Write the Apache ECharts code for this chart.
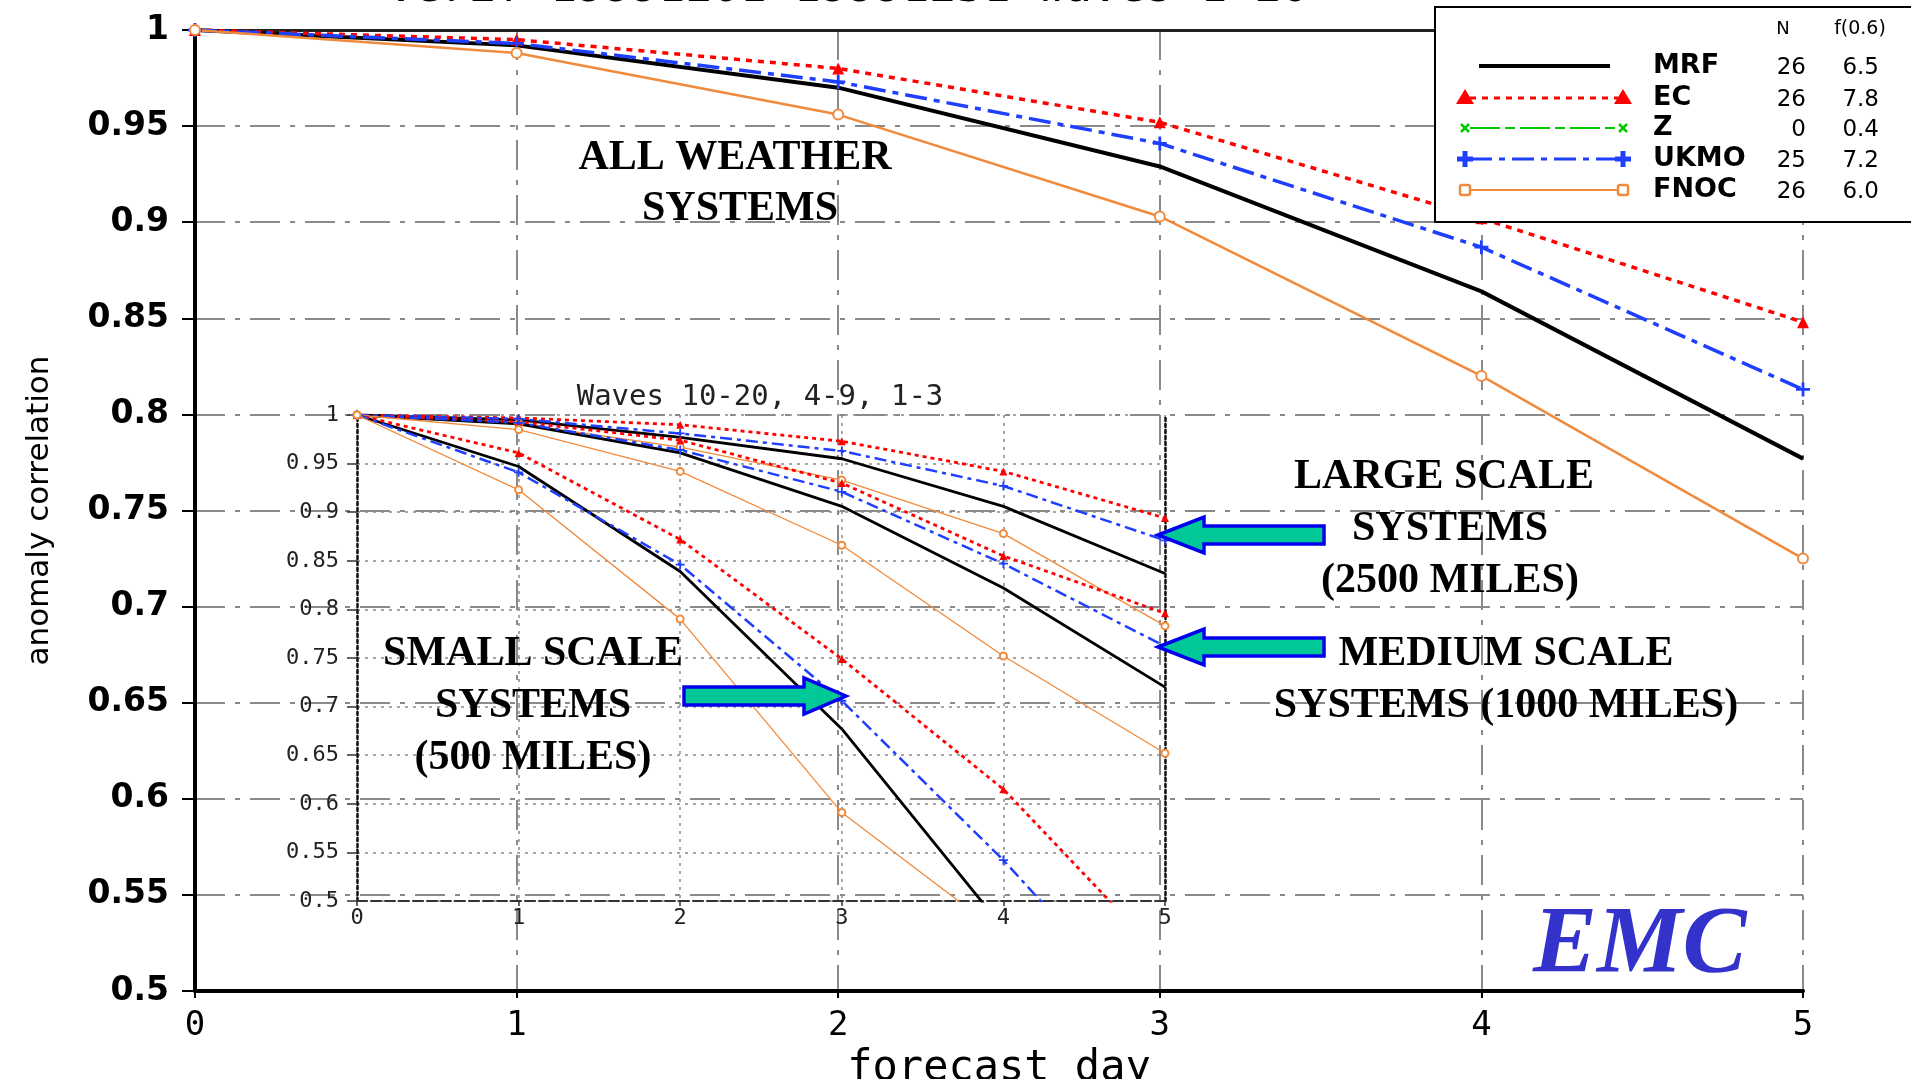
<!DOCTYPE html>
<html>
<head>
<meta charset="utf-8">
<script src="https://cdn.jsdelivr.net/npm/echarts@6/dist/echarts.min.js"></script>
<style>
html,body{margin:0;padding:0;background:#fff;}
#c{width:1911px;height:1079px;}
</style>
</head>
<body>
<div id="c"></div>
<script>
// ---------- data ----------
const days = [0, 1, 2, 3, 4, 5];
const yTicks = ['0.5','0.55','0.6','0.65','0.7','0.75','0.8','0.85','0.9','0.95','1'];

// main chart: all weather systems, waves 1-20
const mrfAll  = [1.000, 0.992, 0.970, 0.929, 0.864, 0.777];
const ecAll   = [1.000, 0.995, 0.980, 0.952, 0.902, 0.848];
const ukmoAll = [1.000, 0.993, 0.973, 0.941, 0.887, 0.813];
const fnocAll = [1.000, 0.988, 0.956, 0.903, 0.820, 0.725];

// inset: waves 1-3 (large scale)
const mrfLarge  = [1.000, 0.995, 0.977, 0.955, 0.906, 0.837];
const ecLarge   = [1.000, 0.997, 0.990, 0.973, 0.942, 0.894];
const ukmoLarge = [1.000, 0.996, 0.981, 0.963, 0.927, 0.871];
const fnocLarge = [1.000, 0.991, 0.967, 0.933, 0.878, 0.783];
// inset: waves 4-9 (medium scale)
const mrfMedium  = [1.000, 0.991, 0.961, 0.906, 0.822, 0.720];
const ecMedium   = [1.000, 0.993, 0.974, 0.930, 0.855, 0.796];
const ukmoMedium = [1.000, 0.992, 0.964, 0.921, 0.847, 0.762];
const fnocMedium = [1.000, 0.985, 0.942, 0.866, 0.752, 0.652];
// inset: waves 10-20 (small scale)
const mrfSmall  = [1.000, 0.947, 0.839, 0.677, 0.472, null];
const ecSmall   = [1.000, 0.961, 0.872, 0.749, 0.615, 0.440];
const ukmoSmall = [1.000, 0.941, 0.846, 0.706, 0.542, 0.360];
const fnocSmall = [1.000, 0.923, 0.790, 0.591, 0.465, null];

// legend table
const legendNames = ['MRF', 'EC', 'Z', 'UKMO', 'FNOC'];
const legendN     = ['26', '26', '0', '25', '26'];
const legendF     = ['6.5', '7.8', '0.4', '7.2', '6.0'];

// ---------- styles ----------
const C = {MRF:'#000000', EC:'#ff0000', Z:'#00cc00', UKMO:'#1f3fff', FNOC:'#f08a3c'};
const PLUS = 'path://M4,0H6V4H10V6H6V10H4V6H0V4H4Z';
const mainStyle = {
  MRF:  {type:'solid', width:4, symbol:'none', size:0},
  EC:   {type:[6,6], width:3.5, symbol:'triangle', size:12},
  UKMO: {type:[22,7,6,7], width:3.5, symbol:PLUS, size:14},
  FNOC: {type:'solid', width:2.5, symbol:'emptyCircle', size:10}
};
const insetStyle = {
  MRF:  {type:'solid', width:2.8, symbol:'none', size:0},
  EC:   {type:[4,4], width:2.8, symbol:'triangle', size:8},
  UKMO: {type:[12,5,4,5], width:2.5, symbol:PLUS, size:9},
  FNOC: {type:'solid', width:1.3, symbol:'emptyCircle', size:7}
};

function mk(name, model, arr, st, xi, yi) {
  return {
    name: name, type: 'line', xAxisIndex: xi, yAxisIndex: yi,
    data: days.map((d, i) => [d, arr[i]]),
    symbol: st.symbol, symbolSize: st.size, showSymbol: st.symbol !== 'none',
    lineStyle: {color: C[model], width: st.width, type: st.type},
    itemStyle: {color: C[model], borderColor: C[model], borderWidth: model === 'FNOC' ? 2 : 0},
    clip: true, silent: true, z: 3
  };
}

const series = [
  mk('MRF', 'MRF', mrfAll, mainStyle.MRF, 0, 0),
  mk('EC', 'EC', ecAll, mainStyle.EC, 0, 0),
  mk('UKMO', 'UKMO', ukmoAll, mainStyle.UKMO, 0, 0),
  mk('FNOC', 'FNOC', fnocAll, mainStyle.FNOC, 0, 0),
  mk('MRF 1-3', 'MRF', mrfLarge, insetStyle.MRF, 2, 1),
  mk('EC 1-3', 'EC', ecLarge, insetStyle.EC, 2, 1),
  mk('UKMO 1-3', 'UKMO', ukmoLarge, insetStyle.UKMO, 2, 1),
  mk('FNOC 1-3', 'FNOC', fnocLarge, insetStyle.FNOC, 2, 1),
  mk('MRF 4-9', 'MRF', mrfMedium, insetStyle.MRF, 2, 1),
  mk('EC 4-9', 'EC', ecMedium, insetStyle.EC, 2, 1),
  mk('UKMO 4-9', 'UKMO', ukmoMedium, insetStyle.UKMO, 2, 1),
  mk('FNOC 4-9', 'FNOC', fnocMedium, insetStyle.FNOC, 2, 1),
  mk('MRF 10-20', 'MRF', mrfSmall, insetStyle.MRF, 2, 1),
  mk('EC 10-20', 'EC', ecSmall, insetStyle.EC, 2, 1),
  mk('UKMO 10-20', 'UKMO', ukmoSmall, insetStyle.UKMO, 2, 1),
  mk('FNOC 10-20', 'FNOC', fnocSmall, insetStyle.FNOC, 2, 1)
];

const fmtY = v => {
  const s = yTicks.find(t => Math.abs(parseFloat(t) - v) < 1e-6);
  return s !== undefined ? s : '';
};

// ---------- graphics (legend, annotations) ----------
const graphic = [];
// title (cut off at top)
graphic.push({type:'text', x:848, y:12, z:10,
  style:{text:'verif 19991201-19991231 waves 1-20', font:'45px "DejaVu Sans Mono"', fill:'#000',
         textAlign:'center', textVerticalAlign:'bottom'}});
// legend box
graphic.push({type:'rect', shape:{x:1435, y:7, width:500, height:215},
  style:{fill:'#fff', stroke:'#000', lineWidth:2}, z:20});
graphic.push({type:'text', x:1783, y:29, z:21, style:{text:'N', font:'18px "DejaVu Sans"', fill:'#000', textAlign:'center', textVerticalAlign:'middle'}});
graphic.push({type:'text', x:1860, y:29, z:21, style:{text:'f(0.6)', font:'19px "DejaVu Sans"', fill:'#000', textAlign:'center', textVerticalAlign:'middle'}});
const rowY = [66, 98, 128, 159, 190];
const lgLine = {
  MRF:  {dash:null, w:4},
  EC:   {dash:[6,6], w:3},
  Z:    {dash:[30,5,10,5], w:2},
  UKMO: {dash:[22,7,6,7], w:3},
  FNOC: {dash:null, w:2}
};
legendNames.forEach((nm, i) => {
  const y = rowY[i];
  const st = lgLine[nm];
  const x1 = nm === 'MRF' ? 1479 : 1470, x2 = nm === 'MRF' ? 1610 : 1618;
  graphic.push({type:'line', z:21, shape:{x1:x1, y1:y, x2:x2, y2:y},
    style:{stroke:C[nm], lineWidth:st.w, lineDash:st.dash}});
  [1465, 1623].forEach(mx => {
    if (nm === 'EC') {
      graphic.push({type:'polygon', z:22, shape:{points:[[mx, y-9],[mx-9, y+6],[mx+9, y+6]]}, style:{fill:C.EC}});
    } else if (nm === 'Z') {
      graphic.push({type:'line', z:22, shape:{x1:mx-4, y1:y-4, x2:mx+4, y2:y+4}, style:{stroke:C.Z, lineWidth:2.5}});
      graphic.push({type:'line', z:22, shape:{x1:mx-4, y1:y+4, x2:mx+4, y2:y-4}, style:{stroke:C.Z, lineWidth:2.5}});
    } else if (nm === 'UKMO') {
      graphic.push({type:'rect', z:22, shape:{x:mx-8, y:y-2.5, width:16, height:5}, style:{fill:C.UKMO}});
      graphic.push({type:'rect', z:22, shape:{x:mx-2.5, y:y-8, width:5, height:16}, style:{fill:C.UKMO}});
    } else if (nm === 'FNOC') {
      graphic.push({type:'rect', z:22, shape:{x:mx-5, y:y-5, width:10, height:10, r:2}, style:{fill:'#fff', stroke:C.FNOC, lineWidth:2.5}});
    }
  });
  graphic.push({type:'text', x:1653, y:y, z:21, style:{text:nm, font:'900 27px "DejaVu Sans"', fill:'#000', textVerticalAlign:'middle'}});
  graphic.push({type:'text', x:1806, y:y+2, z:21, style:{text:legendN[i], font:'23px "DejaVu Sans"', fill:'#000', textAlign:'right', textVerticalAlign:'middle'}});
  graphic.push({type:'text', x:1879, y:y+2, z:21, style:{text:legendF[i], font:'23px "DejaVu Sans"', fill:'#000', textAlign:'right', textVerticalAlign:'middle'}});
});
// inset title
graphic.push({type:'text', x:760, y:397, z:10, style:{text:'Waves 10-20, 4-9, 1-3', font:'29px "DejaVu Sans Mono"', fill:'#222', textAlign:'center', textVerticalAlign:'middle'}});
// annotation texts
const serif = 'bold 42px "Liberation Serif"';
function lbl(t, x, y) {
  graphic.push({type:'text', x:x, y:y, z:10, style:{text:t, font:serif, fill:'#000', textAlign:'center', textVerticalAlign:'middle'}});
}
lbl('ALL WEATHER', 735, 158); lbl('SYSTEMS', 740, 209);
lbl('LARGE SCALE', 1444, 477); lbl('SYSTEMS', 1450, 529); lbl('(2500 MILES)', 1450, 581);
lbl('MEDIUM SCALE', 1506, 654); lbl('SYSTEMS (1000 MILES)', 1506, 706);
lbl('SMALL SCALE', 533, 654); lbl('SYSTEMS', 533, 706); lbl('(500 MILES)', 533, 758);
graphic.push({type:'text', x:1533, y:995, z:10, style:{text:'EMC', font:'italic bold 96px "Liberation Serif"', fill:'#3333cc', textVerticalAlign:'bottom'}});
// arrows
function arrowL(tx, ty) {
  graphic.push({type:'polygon', z:12, shape:{points:[[tx,ty],[tx+46,ty-18],[tx+46,ty-9],[tx+166,ty-9],[tx+166,ty+9],[tx+46,ty+9],[tx+46,ty+18]]},
    style:{fill:'#00c896', stroke:'#0000ee', lineWidth:3.5}});
}
function arrowR(tx, ty) {
  graphic.push({type:'polygon', z:12, shape:{points:[[tx,ty],[tx-42,ty-18],[tx-42,ty-9],[tx-162,ty-9],[tx-162,ty+9],[tx-42,ty+9],[tx-42,ty+18]]},
    style:{fill:'#00c896', stroke:'#0000ee', lineWidth:3.5}});
}
arrowL(1158, 535); arrowL(1158, 647); arrowR(846, 696);

// ---------- option ----------
const gridDashDot = {color:'#8a8a8a', width:2, type:[30,10,5,10]};
const gridDot = {color:'#8a8a8a', width:1.5, type:[3,5]};

const option = {
  animation: false,
  backgroundColor: '#fff',
  grid: [
    {left:195, top:30, width:1608, height:961, containLabel:false, outerBoundsMode:'none'},
    {left:357, top:415, width:808, height:486, containLabel:false, outerBoundsMode:'none'}
  ],
  xAxis: [
    {gridIndex:0, type:'value', min:0, max:5, interval:1, position:'bottom',
     name:'forecast day', nameLocation:'middle', nameGap:42,
     nameTextStyle:{fontFamily:'DejaVu Sans Mono', fontSize:42, color:'#000', verticalAlign:'top'},
     axisLine:{show:true, lineStyle:{color:'#000', width:4}},
     axisTick:{show:true, inside:false, length:7, lineStyle:{color:'#000', width:2}},
     axisLabel:{fontFamily:'DejaVu Sans Mono', fontSize:34, color:'#000', margin:18},
     splitLine:{show:true, lineStyle:gridDashDot}},
    {gridIndex:0, type:'value', min:0, max:5, interval:1, position:'top',
     axisLine:{show:true, onZero:false, lineStyle:{color:'#222', width:3}},
     axisTick:{show:false}, axisLabel:{show:false}, splitLine:{show:false}},
    {gridIndex:1, type:'value', min:0, max:5, interval:1, position:'bottom',
     axisLine:{show:true, onZero:false, lineStyle:{color:'#333', width:2, type:[10,4]}},
     axisTick:{show:true, length:5, lineStyle:{color:'#333', width:1.5}},
     axisLabel:{fontFamily:'DejaVu Sans Mono', fontSize:22, color:'#222', margin:6},
     splitLine:{show:true, lineStyle:gridDot}}
  ],
  yAxis: [
    {gridIndex:0, type:'value', min:0.5, max:1, interval:0.05, position:'left',
     name:'anomaly correlation', nameLocation:'middle', nameGap:140, nameRotate:90,
     nameTextStyle:{fontFamily:'DejaVu Sans', fontSize:31, color:'#000'},
     axisLine:{show:true, onZero:false, lineStyle:{color:'#000', width:4}},
     axisTick:{show:true, length:13, lineStyle:{color:'#000', width:2}},
     axisLabel:{fontFamily:'DejaVu Sans', fontWeight:'bold', fontSize:33, color:'#000', margin:26, formatter:fmtY},
     splitLine:{show:true, lineStyle:gridDashDot}},
    {gridIndex:1, type:'value', min:0.5, max:1, interval:0.05, position:'left',
     axisLine:{show:true, onZero:false, lineStyle:{color:'#111', width:2.5, type:[3,3]}},
     axisTick:{show:true, length:10, lineStyle:{color:'#333', width:1.5}},
     axisLabel:{fontFamily:'DejaVu Sans Mono', fontSize:22, color:'#222', margin:18, formatter:fmtY},
     splitLine:{show:true, lineStyle:gridDot}},
    {gridIndex:1, type:'value', min:0.5, max:1, interval:0.05, position:'right',
     axisLine:{show:true, onZero:false, lineStyle:{color:'#111', width:2.5, type:[3,3]}},
     axisTick:{show:false}, axisLabel:{show:false}, splitLine:{show:false}}
  ],
  series: series,
  graphic: graphic
};

const chart = echarts.init(document.getElementById('c'), null, {renderer:'canvas'});
chart.setOption(option);
</script>
</body>
</html>
